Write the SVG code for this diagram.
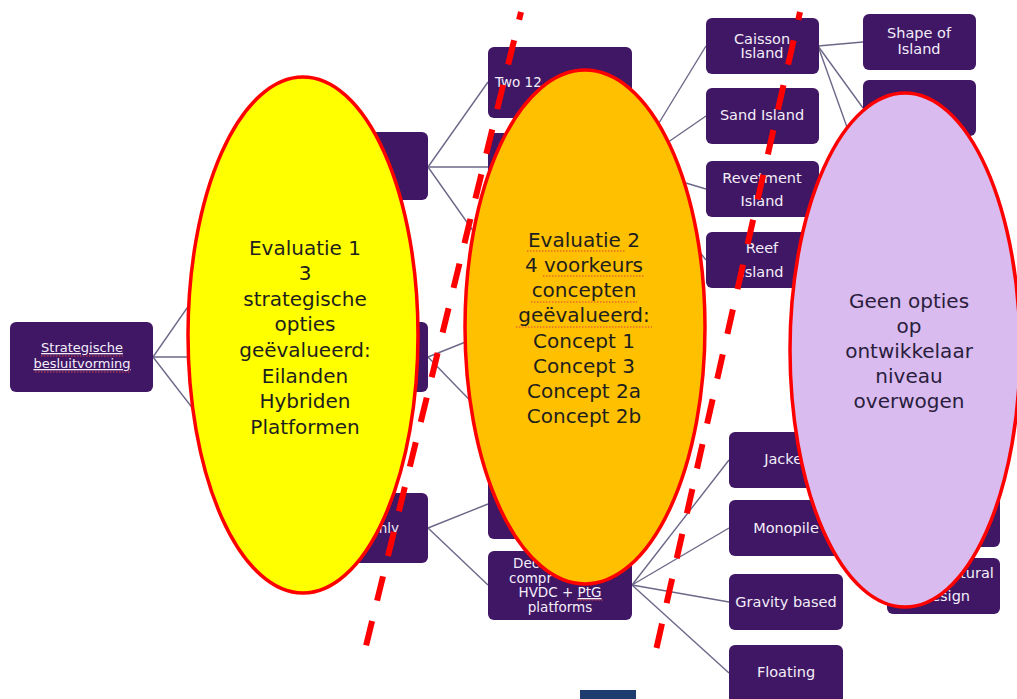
<svg xmlns="http://www.w3.org/2000/svg" width="1017" height="699" viewBox="0 0 1017 699">
<style>
.box{fill:#3F1764;}
.bt{font-family:"DejaVu Sans",Verdana,sans-serif;fill:#F4EEFA;text-anchor:middle;}
.s13{font-size:13.5px;}
.s14{font-size:14.5px;}
.conn line{stroke:#6E6688;stroke-width:1.4;}
.ell{stroke:#FF0000;stroke-width:3.5;}
.et{font-family:"DejaVu Sans",Verdana,sans-serif;font-size:20px;text-anchor:middle;fill:#1E1E1E;}
.dash{stroke:#FF0000;stroke-width:6;stroke-dasharray:25 21;stroke-dashoffset:17;fill:none;}
.sq{stroke:#E04040;stroke-width:1.2;stroke-dasharray:1.5 1.5;}
</style>
<rect width="1017" height="699" fill="#FFFFFF"/>

<g id="connectors" class="conn">
<line x1="153" y1="357" x2="285" y2="167"/>
<line x1="153" y1="357" x2="285" y2="357"/>
<line x1="153" y1="357" x2="285" y2="528"/>
<line x1="428" y1="167" x2="488" y2="82"/>
<line x1="428" y1="167" x2="488" y2="167"/>
<line x1="428" y1="167" x2="488" y2="252"/>
<line x1="428" y1="357" x2="488" y2="333"/>
<line x1="428" y1="357" x2="488" y2="419"/>
<line x1="428" y1="528" x2="488" y2="504"/>
<line x1="428" y1="528" x2="488" y2="585"/>
<line x1="632" y1="167" x2="706" y2="46"/>
<line x1="632" y1="167" x2="706" y2="116"/>
<line x1="632" y1="167" x2="706" y2="189"/>
<line x1="632" y1="167" x2="706" y2="260"/>
<line x1="818" y1="46" x2="863" y2="42"/>
<line x1="818" y1="46" x2="863" y2="108"/>
<line x1="818" y1="46" x2="863" y2="172"/>
<line x1="632" y1="585" x2="729" y2="460"/>
<line x1="632" y1="585" x2="729" y2="528"/>
<line x1="632" y1="585" x2="729" y2="602"/>
<line x1="632" y1="585" x2="729" y2="673"/>
</g>

<g id="n-root">
<rect class="box" x="10" y="322" width="143" height="70" rx="6"/>
<text class="bt" style="font-size:13px" x="82" y="352" text-decoration="underline">Strategische</text>
<text class="bt" style="font-size:13px" x="82" y="368" text-decoration="underline">besluitvorming</text>
<line class="sq" x1="41" y1="356" x2="123" y2="356"/>
<line class="sq" x1="35" y1="372" x2="130" y2="372"/>
</g>

<g id="n-l1a"><rect class="box" x="285" y="132" width="143" height="68" rx="6"/></g>
<g id="n-l1b"><rect class="box" x="285" y="322" width="143" height="70" rx="6"/></g>
<g id="n-l1c"><rect class="box" x="285" y="493" width="143" height="70" rx="6"/>
<text class="bt s13" x="399" y="533" style="text-anchor:end">nly</text></g>

<g id="n-l2a"><rect class="box" x="488" y="47" width="144" height="71" rx="6"/>
<text class="bt s13" x="495" y="87" style="text-anchor:start">Two 12</text></g>
<g id="n-l2b"><rect class="box" x="488" y="133" width="144" height="68" rx="6"/></g>
<g id="n-l2c"><rect class="box" x="488" y="217" width="144" height="70" rx="6"/></g>
<g id="n-l2d"><rect class="box" x="488" y="298" width="144" height="70" rx="6"/></g>
<g id="n-l2e"><rect class="box" x="488" y="384" width="144" height="70" rx="6"/></g>
<g id="n-l2f"><rect class="box" x="488" y="470" width="144" height="69" rx="6"/></g>
<g id="n-l2g"><rect class="box" x="488" y="551" width="144" height="69" rx="6"/>
<text class="bt s13" x="513" y="568" style="text-anchor:start">Dec</text>
<text class="bt s13" x="509" y="582.5" style="text-anchor:start">compr</text>
<text class="bt s13" x="560" y="597">HVDC + <tspan text-decoration="underline">PtG</tspan></text>
<text class="bt s13" x="560" y="611.5">platforms</text>
<line class="sq" x1="577" y1="600" x2="603" y2="600"/>
</g>

<g id="n-caisson"><rect class="box" x="706" y="18" width="113" height="56" rx="6"/>
<text class="bt s14" x="762" y="44">Caisson</text><text class="bt s14" x="762" y="58">Island</text></g>
<g id="n-sand"><rect class="box" x="706" y="88" width="113" height="56" rx="6"/>
<text class="bt s14" x="762" y="120">Sand Island</text></g>
<g id="n-revet"><rect class="box" x="706" y="161" width="113" height="56" rx="6"/>
<text class="bt s14" x="762" y="183">Revetment</text><text class="bt s14" x="762" y="206">Island</text></g>
<g id="n-reef"><rect class="box" x="706" y="232" width="113" height="56" rx="6"/>
<text class="bt s14" x="762" y="253">Reef</text><text class="bt s14" x="762" y="277">Island</text></g>

<g id="n-shape"><rect class="box" x="863" y="14" width="113" height="56" rx="6"/>
<text class="bt s14" x="919" y="38">Shape of</text><text class="bt s14" x="919" y="54">Island</text></g>
<g id="n-l4b"><rect class="box" x="863" y="80" width="113" height="56" rx="6"/></g>

<g id="n-jacket"><rect class="box" x="729" y="432" width="114" height="56" rx="6"/>
<text class="bt s14" x="786" y="464">Jacket</text></g>
<g id="n-mono"><rect class="box" x="729" y="500" width="114" height="56" rx="6"/>
<text class="bt s14" x="786" y="533">Monopile</text></g>
<g id="n-grav"><rect class="box" x="729" y="574" width="114" height="56" rx="6"/>
<text class="bt s14" x="786" y="607">Gravity based</text></g>
<g id="n-float"><rect class="box" x="729" y="645" width="114" height="60" rx="6"/>
<text class="bt s14" x="786" y="677">Floating</text></g>

<g id="n-l4c"><rect class="box" x="887" y="491" width="113" height="56" rx="6"/></g>
<g id="n-struct"><rect class="box" x="887" y="558" width="113" height="56" rx="6"/>
<text class="bt s14" x="958" y="578">Structural</text><text class="bt s14" x="946" y="601">design</text></g>

<rect id="navy" x="580" y="690" width="56" height="9" fill="#1F3C6E"/>

<g id="dashed-lines">
<line class="dash" x1="521" y1="12" x2="365" y2="650"/>
<line class="dash" x1="800" y1="12" x2="652" y2="668"/>
</g>

<g id="e-yellow">
<ellipse class="ell" cx="303" cy="335" rx="115" ry="258" fill="#FFFF00"/>
<text class="et" x="305" y="255">Evaluatie 1</text>
<text class="et" x="305" y="280">3</text>
<text class="et" x="305" y="306">strategische</text>
<text class="et" x="305" y="331">opties</text>
<text class="et" x="305" y="357">geëvalueerd:</text>
<text class="et" x="305" y="383">Eilanden</text>
<text class="et" x="305" y="408">Hybriden</text>
<text class="et" x="305" y="434">Platformen</text>
</g>

<g id="e-orange">
<ellipse class="ell" cx="585" cy="327" rx="120" ry="257" fill="#FFC000"/>
<text class="et" x="584" y="247">Evaluatie 2</text>
<text class="et" x="584" y="272">4 voorkeurs</text>
<text class="et" x="584" y="297">concepten</text>
<text class="et" x="584" y="322">geëvalueerd:</text>
<text class="et" x="584" y="348">Concept 1</text>
<text class="et" x="584" y="373">Concept 3</text>
<text class="et" x="584" y="398">Concept 2a</text>
<text class="et" x="584" y="423">Concept 2b</text>
<line class="sq" x1="527" y1="251" x2="625" y2="251"/>
<line class="sq" x1="543" y1="276" x2="645" y2="276"/>
<line class="sq" x1="531" y1="302" x2="637" y2="302"/>
<line class="sq" x1="516" y1="327" x2="652" y2="327"/>
</g>

<g id="e-purple">
<ellipse class="ell" cx="905" cy="350" rx="115" ry="257" fill="#D9BBEF"/>
<text class="et" x="909" y="308" style="fill:#2A1D3D">Geen opties</text>
<text class="et" x="909" y="333" style="fill:#2A1D3D">op</text>
<text class="et" x="909" y="358" style="fill:#2A1D3D">ontwikkelaar</text>
<text class="et" x="909" y="383" style="fill:#2A1D3D">niveau</text>
<text class="et" x="909" y="408" style="fill:#2A1D3D">overwogen</text>
</g>
</svg>
